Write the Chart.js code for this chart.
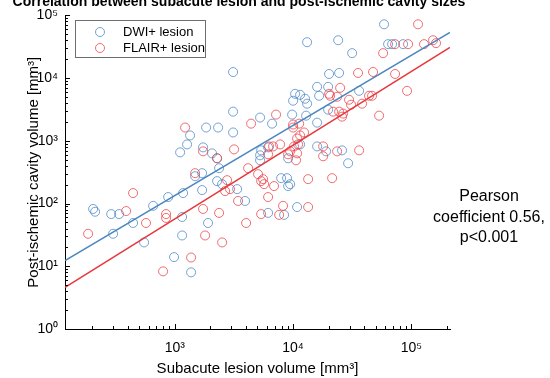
<!DOCTYPE html>
<html>
<head>
<meta charset="utf-8">
<script src="https://cdn.jsdelivr.net/npm/chart.js@4.4.0/dist/chart.umd.min.js"></script>
<style>
  html, body { margin: 0; padding: 0; background: #fff; }
  #wrap { width: 550px; height: 378px; }
</style>
</head>
<body>
<div id="wrap"><canvas id="lesionChart" width="550" height="378"></canvas></div>
<script>
// subacute lesion volume vs post-ischemic cavity volume, both mm3
var dwiLesion = [204, 212, 290, 338, 301, 444, 656, 879, 1175, 1153, 1153, 550, 986, 1373, 1109,
  1270, 1346, 1840, 2323, 3110, 3110, 3110, 5260, 6643, 1734, 2065, 2278, 2368, 1702, 1485,
  2278, 2512, 1702, 3365, 3928, 1910, 6148, 7925, 8892, 9078, 10810, 8395, 5370, 6148, 5260,
  5260, 9078, 9817, 10400, 10000, 11460, 12620, 13130, 12880, 15960, 19770, 16600, 15960, 19770, 20140,
  24490, 36140, 13130, 24040, 31550, 58750, 63530, 68710, 85100, 11460, 15960, 19010, 25940, 29170, 9441];
var dwiCavity = [82, 74, 68, 68, 33, 49, 92, 127, 147, 61, 31, 24, 14, 8, 655,
  877, 1220, 1630, 1630, 1360, 2920, 12500, 2350, 1880, 787, 632, 527, 366, 305, 273,
  228, 204, 164, 170, 110, 49, 71, 254, 254, 190, 88, 66, 705, 787, 588,
  490, 527, 2620, 5620, 4360, 5420, 4690, 3910, 2520, 1950, 3140, 5230, 7260, 7260, 11640,
  12080, 6270, 37400, 40200, 25000, 72100, 34800, 34800, 34800, 877, 815, 680, 705, 439, 204];

var flairLesion = [185, 444, 388, 571, 844, 844, 796, 1373, 1222, 4415, 7178, 1734, 2278, 3170, 1485,
  4168, 5058, 5572, 2768, 6148, 6774, 7763, 10000, 10810, 11020, 9441, 2931, 2662, 5370, 5688,
  6902, 6148, 3428, 1734, 2368, 5370, 4008, 8226, 7621, 1803, 2512, 113800, 57680, 72800, 93750,
  127900, 152400, 161500, 35400, 47420, 72800, 20140, 20560, 24980, 23550, 29720, 30900, 38280, 43850, 46520,
  91900, 53330, 21780, 24490, 26480, 25940, 10000, 11250, 12390, 11460, 10190, 10810, 17950, 17950, 23550,
  36140, 10590, 13400, 21380, 13400, 6266, 9078];
var flairCavity = [33, 147, 76, 49, 68, 59, 8.3, 13.8, 1630, 1880, 2620, 680, 527, 731, 305,
  366, 294, 245, 236, 610, 815, 877, 1820, 1090, 877, 680, 170, 158, 228, 204,
  190, 127, 110, 82, 71, 68, 49, 92, 66, 31, 24, 72100, 25000, 34800, 34800,
  34800, 40200, 36100, 12080, 12530, 11640, 5620, 5230, 7000, 5040, 4520, 3770, 3910, 5230, 5230,
  6270, 2520, 2920, 2920, 2720, 2430, 1630, 1880, 1360, 1220, 815, 632, 815, 567, 680,
  705, 490, 245, 254, 88, 815, 610];

// regression lines, end points
var fitLesion = [118, 212000];
var dwiFit = [12.3, 53700];
var flairFit = [4.6, 30900];

// decade labels, indexed by exponent
var tickLabels = ['10\u2070', '10\u00b9', '10\u00b2', '10\u00b3', '10\u2074', '10\u2075'];
var xLabelDecades = [3, 4, 5];
var annotation = ['Pearson', 'coefficient 0.56,', 'p<0.001'];

var FONT = '"Liberation Sans", Arial, sans-serif';
Chart.defaults.font.family = FONT;
Chart.defaults.color = '#000';

function toPoints(xs, ys) {
  return xs.map(function (x, i) { return { x: x, y: ys[i] }; });
}
function decade(v) {
  var e = Math.log10(v);
  return Math.abs(e - Math.round(e)) < 1e-6 ? Math.round(e) : null;
}
function onGrid(v) {
  var e = Math.floor(Math.log10(v) + 1e-9);
  var m = v / Math.pow(10, e);
  return Math.abs(m - Math.round(m)) < 1e-6;
}

var decorations = {
  id: 'decorations',
  afterDraw: function (chart) {
    var ctx = chart.ctx, xs = chart.scales.x, ys = chart.scales.y;
    ctx.save();
    // inward ticks
    ctx.strokeStyle = '#000';
    ctx.lineWidth = 1;
    ctx.beginPath();
    xs.ticks.forEach(function (t) {
      if (!onGrid(t.value)) return;
      var px = Math.round(xs.getPixelForValue(t.value)) + 0.5;
      var len = decade(t.value) === null ? 3 : 5;
      ctx.moveTo(px, xs.top);
      ctx.lineTo(px, xs.top - len);
    });
    ys.ticks.forEach(function (t) {
      if (!onGrid(t.value)) return;
      var py = Math.round(ys.getPixelForValue(t.value)) + 0.5;
      var len = decade(t.value) === null ? 3 : 5;
      ctx.moveTo(ys.right, py);
      ctx.lineTo(ys.right + len, py);
    });
    ctx.stroke();

    // legend box
    ctx.fillStyle = '#fff';
    ctx.fillRect(75, 20, 130, 38);
    ctx.strokeStyle = '#6e6e6e';
    ctx.strokeRect(75.5, 20.5, 130, 37);
    var rows = chart.data.datasets.filter(function (d) { return d.type !== 'line'; });
    rows.forEach(function (d, i) {
      var cy = 32 + i * 16;
      ctx.beginPath();
      ctx.arc(100, cy, 4.5, 0, Math.PI * 2);
      ctx.strokeStyle = d.borderColor;
      ctx.stroke();
      ctx.fillStyle = '#000';
      ctx.font = '13px ' + FONT;
      ctx.textBaseline = 'middle';
      ctx.textAlign = 'left';
      ctx.fillText(d.label, 123, cy);
    });

    // title, cut at the top edge
    ctx.font = 'bold 14px ' + FONT;
    ctx.textAlign = 'center';
    ctx.textBaseline = 'alphabetic';
    ctx.fillText('Correlation between subacute lesion and post-ischemic cavity sizes', 239, 6);

    // correlation note
    ctx.font = '16px ' + FONT;
    ctx.textBaseline = 'middle';
    annotation.forEach(function (line, i) {
      ctx.fillText(line, 489, 197 + i * 20.5);
    });
    ctx.restore();
  }
};

new Chart(document.getElementById('lesionChart').getContext('2d'), {
  type: 'scatter',
  data: {
    datasets: [{
      type: 'line',
      label: 'DWI fit',
      data: toPoints(fitLesion, dwiFit),
      borderColor: '#4a86c0',
      borderWidth: 1.6,
      pointRadius: 0,
      order: 0
    }, {
      type: 'line',
      label: 'FLAIR fit',
      data: toPoints(fitLesion, flairFit),
      borderColor: '#e8383d',
      borderWidth: 1.6,
      pointRadius: 0,
      order: 0
    }, {
      label: 'DWI+ lesion',
      data: toPoints(dwiLesion, dwiCavity),
      borderColor: 'rgba(70,132,196,0.75)',
      backgroundColor: 'rgba(0,0,0,0)',
      borderWidth: 1,
      pointRadius: 4.5,
      order: 2
    }, {
      label: 'FLAIR+ lesion',
      data: toPoints(flairLesion, flairCavity),
      borderColor: 'rgba(236,60,66,0.75)',
      backgroundColor: 'rgba(0,0,0,0)',
      borderWidth: 1,
      pointRadius: 4.5,
      order: 1
    }]
  },
  options: {
    responsive: false,
    animation: false,
    devicePixelRatio: 1,
    layout: { padding: { top: 13, right: 100, left: 0, bottom: 0 } },
    plugins: { legend: { display: false }, tooltip: { enabled: false } },
    scales: {
      x: {
        type: 'logarithmic',
        position: 'bottom',
        min: 118,
        max: 212000,
        grid: { display: false, drawTicks: false },
        border: { display: true, color: '#000', width: 1 },
        ticks: {
          autoSkip: false,
          maxRotation: 0,
          padding: 11,
          font: { size: 14 },
          callback: function (v) {
            var e = decade(v);
            return e !== null && xLabelDecades.indexOf(e) >= 0 ? tickLabels[e] : '';
          }
        },
        title: { display: true, text: 'Subacute lesion volume [mm\u00b3]', font: { size: 15 }, padding: { top: 0, bottom: 0 } },
        afterFit: function (s) { s.height = 49; }
      },
      y: {
        type: 'logarithmic',
        min: 1,
        max: 100000,
        grid: { display: false, drawTicks: false },
        border: { display: true, color: '#000', width: 1 },
        ticks: {
          autoSkip: false,
          padding: 7,
          font: { size: 14 },
          callback: function (v) {
            var e = decade(v);
            return e !== null ? tickLabels[e] : '';
          }
        },
        title: { display: true, text: 'Post-ischemic cavity volume [mm\u00b3]', font: { size: 15 }, padding: { top: 25, bottom: 0 } },
        afterFit: function (s) { s.width = 65; }
      }
    }
  },
  plugins: [decorations]
});
</script>
</body>
</html>
